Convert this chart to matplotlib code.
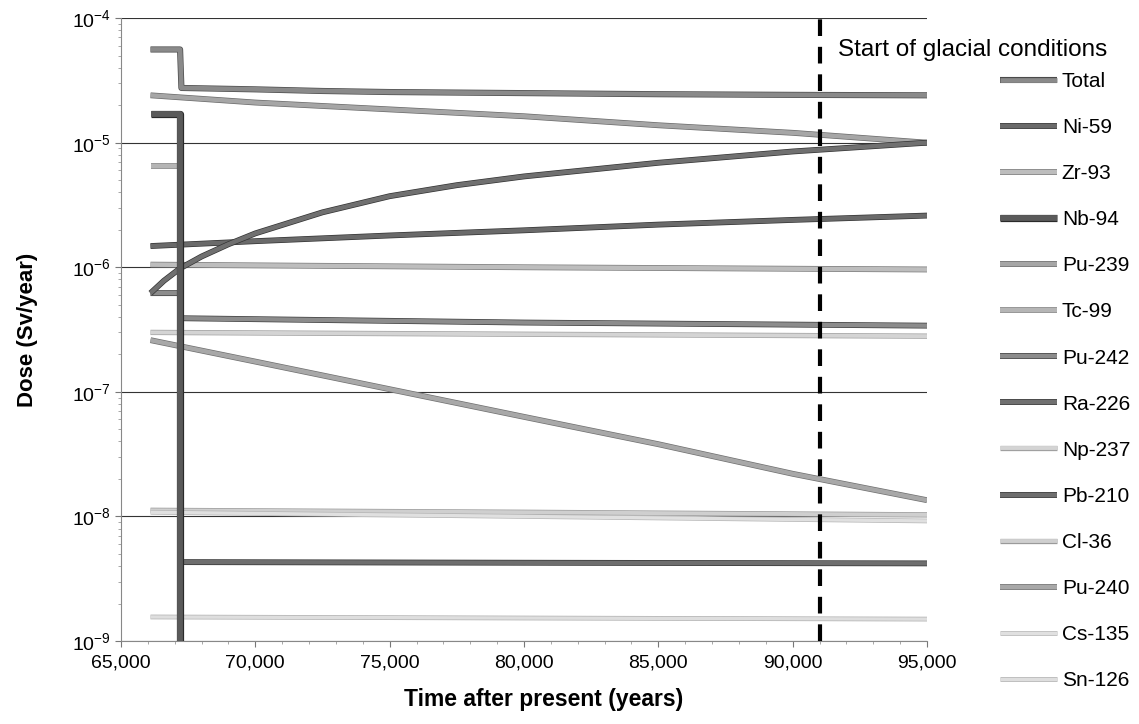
import matplotlib
matplotlib.use('Agg')
import matplotlib.pyplot as plt
import matplotlib.ticker as ticker
import matplotlib.patheffects as pe

plt.rcParams['font.family'] = ['Liberation Sans', 'DejaVu Sans']

# ── data (years, Sv/year) ─────────────────────────────────────────────────
t_total   = [66100, 67200, 67250, 70000, 72500, 75000, 80000, 85000, 90000, 95000]
d_total   = [5.6e-5, 5.6e-5, 2.75e-5, 2.68e-5, 2.6e-5, 2.55e-5, 2.5e-5, 2.45e-5, 2.42e-5, 2.4e-5]

t_ni59    = [66100, 70000, 75000, 80000, 85000, 90000, 95000]
d_ni59    = [1.48e-6, 1.62e-6, 1.8e-6, 1.98e-6, 2.2e-6, 2.4e-6, 2.6e-6]

t_zr93    = [66100, 80000, 95000]
d_zr93    = [1.05e-6, 1.0e-6, 9.6e-7]

t_nb94    = [66100, 67200, 67200]
d_nb94    = [1.7e-5, 1.7e-5, 1e-10]

t_pu239   = [66100, 70000, 75000, 80000, 85000, 90000, 95000]
d_pu239   = [2.4e-5, 2.1e-5, 1.85e-5, 1.63e-5, 1.38e-5, 1.2e-5, 1.0e-5]

t_tc99    = [66100, 67200, 67200]
d_tc99    = [6.5e-6, 6.5e-6, 1e-10]

t_pu242   = [66100, 67200, 67200, 80000, 95000]
d_pu242   = [6.2e-7, 6.2e-7, 3.9e-7, 3.6e-7, 3.4e-7]

t_ra226   = [66100, 66600, 67200, 68000, 69000, 70000, 72500, 75000, 77500, 80000, 85000, 90000, 95000]
d_ra226   = [6.2e-7, 7.8e-7, 9.8e-7, 1.22e-6, 1.53e-6, 1.87e-6, 2.76e-6, 3.72e-6, 4.56e-6,
             5.36e-6, 6.9e-6, 8.5e-6, 1.0e-5]

t_np237   = [66100, 80000, 95000]
d_np237   = [3.0e-7, 2.9e-7, 2.8e-7]

t_pb210   = [67200, 80000, 95000]
d_pb210   = [4.3e-9, 4.25e-9, 4.2e-9]

t_cl36    = [66100, 80000, 95000]
d_cl36    = [1.12e-8, 1.08e-8, 1.03e-8]

t_pu240   = [66100, 70000, 75000, 80000, 85000, 90000, 95000]
d_pu240   = [2.6e-7, 1.75e-7, 1.05e-7, 6.3e-8, 3.8e-8, 2.2e-8, 1.35e-8]

t_cs135   = [66100, 80000, 95000]
d_cs135   = [1.08e-8, 1.0e-8, 9.2e-9]

t_sn126   = [66100, 80000, 95000]
d_sn126   = [1.56e-9, 1.53e-9, 1.5e-9]

glacial_start = 91000

# label, t, d, colour, edge colour, width, zorder
series = [
    ('Total',  t_total, d_total, '#8a8a8a', '#4a4a4a', 3.4, 3),
    ('Ni-59',  t_ni59,  d_ni59,  '#6a6a6a', '#333333', 3.2, 3),
    ('Zr-93',  t_zr93,  d_zr93,  '#bdbdbd', '#7a7a7a', 3.2, 3),
    ('Nb-94',  t_nb94,  d_nb94,  '#5a5a5a', '#2a2a2a', 4.2, 4),
    ('Pu-239', t_pu239, d_pu239, '#a6a6a6', '#6a6a6a', 3.2, 3),
    ('Tc-99',  t_tc99,  d_tc99,  '#b5b5b5', '#7a7a7a', 3.0, 2),
    ('Pu-242', t_pu242, d_pu242, '#8c8c8c', '#3c3c3c', 3.2, 3),
    ('Ra-226', t_ra226, d_ra226, '#707070', '#333333', 3.2, 3),
    ('Np-237', t_np237, d_np237, '#d4d4d4', '#a0a0a0', 2.8, 3),
    ('Pb-210', t_pb210, d_pb210, '#6e6e6e', '#333333', 3.2, 3),
    ('Cl-36',  t_cl36,  d_cl36,  '#cfcfcf', '#9a9a9a', 2.8, 3),
    ('Pu-240', t_pu240, d_pu240, '#a8a8a8', '#707070', 3.2, 3),
    ('Cs-135', t_cs135, d_cs135, '#e0e0e0', '#b5b5b5', 2.4, 3),
    ('Sn-126', t_sn126, d_sn126, '#dedede', '#b0b0b0', 2.4, 3),
]

fig = plt.figure(figsize=(11.39, 7.24), dpi=100)
ax = fig.add_axes([0.1062, 0.1146, 0.7077, 0.8604])

for label, t, d, c, ec, lw, z in series:
    ax.plot(t, d, color=c, lw=lw, label=label, zorder=z, solid_capstyle='butt',
            path_effects=[pe.Stroke(linewidth=lw + 1.0, foreground=ec), pe.Normal()])

ax.axvline(glacial_start, color='black', lw=3, ls=(0, (4, 2.6)), zorder=5)
ax.text(glacial_start + 700, 5.5e-5, 'Start of glacial conditions',
        fontsize=17.5, ha='left', va='center', clip_on=False)

ax.set_yscale('log')
ax.set_ylim(1e-9, 1e-4)
ax.set_xlim(65000, 95000)
ax.set_xticks(range(65000, 95001, 5000))
ax.xaxis.set_minor_locator(ticker.MultipleLocator(1000))
ax.xaxis.set_major_formatter(ticker.FuncFormatter(lambda x, _: f'{x:,.0f}'))
ax.tick_params(axis='both', which='major', labelsize=14, length=4, color='#777777')
ax.tick_params(axis='x', which='major', pad=6)
ax.tick_params(axis='both', which='minor', length=2, color='#999999')

ax.grid(axis='y', which='major', color='#333333', lw=0.8)
ax.spines['right'].set_visible(False)
ax.spines['top'].set_visible(False)
ax.spines['left'].set_color('#888888')
ax.spines['bottom'].set_color('#888888')

ax.set_xlabel('Time after present (years)', fontsize=16.5, fontweight='bold')
ax.xaxis.set_label_coords(0.524, -0.075)
ax.set_ylabel('Dose (Sv/year)', fontsize=16, fontweight='bold')
ax.yaxis.set_label_coords(-0.103, 0.5)

ax.legend(loc='upper left', bbox_to_anchor=(0.871, 0.912), bbox_transform=fig.transFigure,
          frameon=False, fontsize=15, handlelength=2.7, handletextpad=0.25,
          labelspacing=1.3, borderaxespad=0)

plt.savefig('out.png', dpi=100)
